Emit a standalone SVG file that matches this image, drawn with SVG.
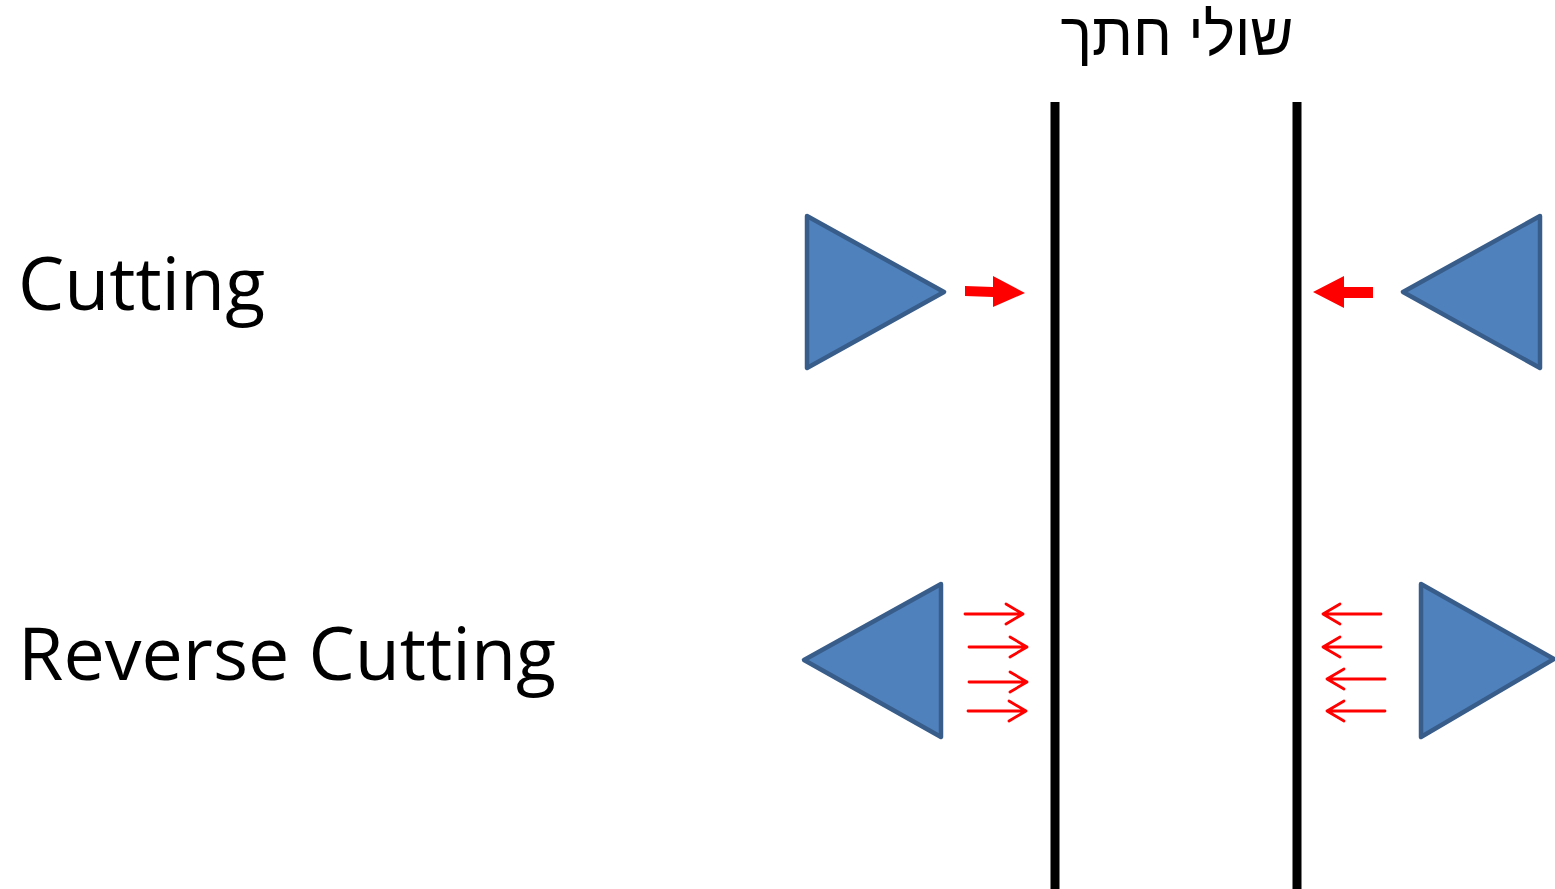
<svg xmlns="http://www.w3.org/2000/svg" width="1555" height="889" viewBox="0 0 1555 889">
<style>
.tri{fill:#4F81BD;stroke:#385D8A;stroke-width:4.5;stroke-linejoin:round}
.wall{stroke:#000;stroke-width:9}
.blk{fill:#FF0000}
.thin{stroke:#FF0000;stroke-width:2.8;fill:none;stroke-linecap:round;stroke-linejoin:round}
.lbl{font-family:"Open Sans","Liberation Sans",sans-serif;font-size:74px;fill:#000}
.heb{font-family:"Liberation Sans","DejaVu Sans",sans-serif;font-size:60px;fill:#000}
</style>
<rect width="1555" height="889" fill="#fff"/>
<g id="title"><text class="heb" x="1177" y="55" text-anchor="middle" direction="rtl" textLength="233" lengthAdjust="spacingAndGlyphs">שולי חתך</text></g>
<g id="label-cutting"><text class="lbl" x="18" y="310" textLength="247" lengthAdjust="spacingAndGlyphs">Cutting</text></g>
<g id="label-reverse"><text class="lbl" x="18" y="680" textLength="538" lengthAdjust="spacingAndGlyphs">Reverse Cutting</text></g>
<g id="wall-left"><line class="wall" x1="1055" y1="102" x2="1055" y2="889"/></g>
<g id="wall-right"><line class="wall" x1="1297" y1="102" x2="1297" y2="889"/></g>
<g id="tool-top-left"><polygon class="tri" points="807,216 944,292 807,368"/></g>
<g id="tool-top-right"><polygon class="tri" points="1540,216 1403,292 1540,368"/></g>
<g id="tool-bottom-left"><polygon class="tri" points="941,584 804,660 941,737"/></g>
<g id="tool-bottom-right"><polygon class="tri" points="1421,584 1554,659 1421,737"/></g>
<g id="connectors">
<polygon class="blk" points="965,286 993,287 993,276 1025,293 993,307 993,297 965,296"/>
<polygon class="blk" points="1373,287 1344,287 1344,276 1313,292 1344,308 1344,298 1373,298"/>
<path class="thin" d="M965,614 H1023 M1006,604 L1023,614 L1006,624"/>
<path class="thin" d="M969,647 H1027 M1010,637 L1027,647 L1010,657"/>
<path class="thin" d="M969,682 H1027 M1010,672 L1027,682 L1010,692"/>
<path class="thin" d="M968,711 H1026 M1009,701 L1026,711 L1009,721"/>
<path class="thin" d="M1381,614 H1323 M1340,604 L1323,614 L1340,624"/>
<path class="thin" d="M1381,647 H1323 M1340,637 L1323,647 L1340,657"/>
<path class="thin" d="M1385,679 H1327 M1344,669 L1327,679 L1344,689"/>
<path class="thin" d="M1385,711 H1327 M1344,701 L1327,711 L1344,721"/>
</g>
</svg>
